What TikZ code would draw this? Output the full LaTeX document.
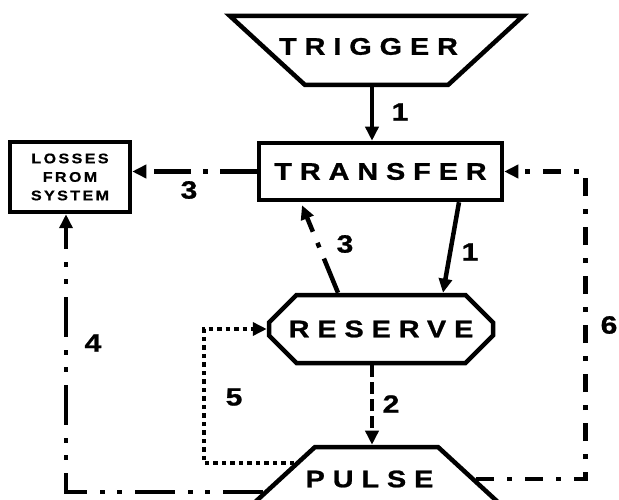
\documentclass[tikz,border=0pt]{standalone}
\usepackage{fontspec}
\setmainfont{Liberation Sans}
\newfontfamily\spacedfont[LetterSpace=33, FakeStretch=1.2, FakeBold=1]{Liberation Sans}
\newfontfamily\smallspaced[LetterSpace=17, FakeStretch=1.15, FakeBold=0.6]{Liberation Sans}
\newfontfamily\numfont[FakeStretch=1.2, FakeBold=1]{Liberation Sans}
\usetikzlibrary{arrows.meta,shapes.geometric,shapes.misc,calc}

\begin{document}
\begin{tikzpicture}[x=1pt,y=-1pt,
      every node/.style={font=\numfont\fontsize{25}{29}\selectfont\bfseries},
      spaced/.style={font=\spacedfont\fontsize{24}{28}\selectfont\bfseries},
      box/.style={draw=black, line width=4.5pt, inner sep=0pt, spaced},
      funnel/.style={box, trapezium, trapezium angle=42.6},
      flow/.style={line width=4.5pt, -{Triangle[length=14pt,width=13pt]}},
      dashdot/.style={flow, dash pattern=on 37pt off 12pt on 5pt off 12pt},
      dashdotdot/.style={flow, dash pattern=on 40pt off 13pt on 5pt off 12pt on 5pt off 13pt},
      shortdashdot/.style={flow, dash pattern=on 18pt off 13pt on 5pt off 13pt},
      dashline/.style={flow, dash pattern=on 12pt off 5pt},
      dotline/.style={flow, dash pattern=on 4.5pt off 4pt}
    ]
    \useasboundingbox (0,0) rectangle (619,500);

    \node[funnel, shape border rotate=180, inner xsep=71.5pt, inner ysep=34.5pt,
      label={[spaced, xshift=-8pt, yshift=4pt]center:TRIGGER}] (trigger) at (376.5,50.5) {};
    \node[box, minimum width=243pt, minimum height=57pt] (transfer) at (380.5,171.5) {TRANSFER\hspace{24pt}};
    \node[box, minimum width=120pt, minimum height=70pt, align=center,
      font=\smallspaced\fontsize{14}{18.5}\selectfont\bfseries] (losses) at (70,177) {LOSSES\\FROM\\SYSTEM};
    \node[box, chamfered rectangle, chamfered rectangle xsep=28pt, chamfered rectangle ysep=19pt,
      minimum width=224pt, minimum height=68pt] (reserve) at (381,329) {RESERVE\hspace{22pt}};
    \node[funnel, inner xsep=61.5pt, inner ysep=32pt,
      label={[spaced, xshift=-7pt]center:PULSE}] (pulse) at (376.5,479) {};

    % connectors
    \draw[flow] ([xshift=-4.5pt]trigger.south) -- ([xshift=-8.5pt]transfer.north);
    \draw[dashdot] (transfer.west) -- (transfer.west -| losses.east);
    \draw[flow] ([xshift=78.5pt]transfer.south) -- ([xshift=62pt]reserve.north);
    \draw[dashdot] ([xshift=-43pt]reserve.north) -- ([xshift=-78.5pt,yshift=-3pt]transfer.south);
    \draw[dashline] ([xshift=-9pt]reserve.south) -- ([xshift=-4.5pt]pulse.north);

    \coordinate (p5) at ($(pulse.top left corner)!0.27!(pulse.bottom left corner)$);
    \coordinate (p4) at ($(pulse.top left corner)!0.69!(pulse.bottom left corner)$);
    \draw[dotline] (p5) -| ($(reserve.west)+(-63,0)$) -- (reserve.west);
    \draw[dashdotdot] (p4) -| ([xshift=-4pt]losses.south);
    \draw[shortdashdot] (pulse.east) -| ($(transfer.east)+(81,0)$) -- (transfer.east);

    \node (n1a) at (400,112) {1};
    \node (n3a) at (189,190) {3};
    \node (n3b) at (345,244) {3};
    \node (n1b) at (470,252) {1};
    \node (n4) at (93,343) {4};
    \node (n5) at (234,397) {5};
    \node (n2) at (391,404) {2};
    \node (n6) at (609,325) {6};

  \end{tikzpicture}
\end{document}
